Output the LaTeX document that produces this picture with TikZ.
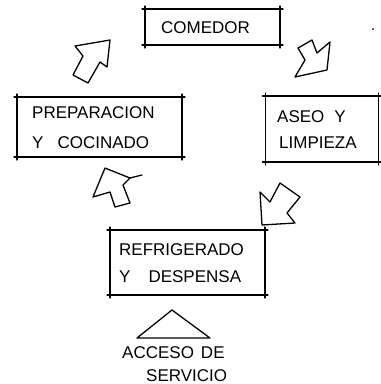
\documentclass[tikz,border=0pt]{standalone}
\usepackage{fontspec}
\setmainfont{Liberation Sans}
\begin{document}
\begin{tikzpicture}[x=1pt,y=-1pt,
  sk/.style={line width=1.3pt,line cap=round,line join=round},
  boxln/.style={sk,shorten <=-3pt,shorten >=-3pt},
  areabox/.style={minimum width=#1,inner sep=0pt,outer sep=0pt},
  lbl/.style={anchor=west,inner sep=0pt,font=\fontsize{17}{17}\selectfont},
  bigarrow/.style={sk,fill=white}]
\useasboundingbox (0,0) rectangle (381,384);
% boxes
\node[areabox=135pt,minimum height=36pt] (com) at (212.5,27) {};
\node[areabox=165pt,minimum height=60pt] (prep) at (99.5,127) {};
\node[areabox=113pt,minimum height=66pt] (aseo) at (322,129) {};
\node[areabox=155pt,minimum height=65pt] (refr) at (187.5,262.5) {};
\foreach \b in {com,prep,aseo,refr}{
  \draw[boxln] (\b.north west) -- (\b.north east);
  \draw[boxln] (\b.north east) -- (\b.south east);
  \draw[boxln] (\b.south east) -- (\b.south west);
  \draw[boxln] (\b.south west) -- (\b.north west);
}
% labels
\node[lbl] (tcom) at (161,28) {COMEDOR};
\node[lbl] (tprep1) at (32,113) {PREPARACION};
\node[lbl] (tprep2) at (32,143) {Y\hspace{14pt}COCINADO};
\node[lbl] (taseo1) at (277,117) {ASEO\hspace{10pt}Y};
\node[lbl] (taseo2) at (279,143) {LIMPIEZA};
\node[lbl] (trefr1) at (119,250) {REFRIGERADO};
\node[lbl] (trefr2) at (119,277) {Y\hspace{18pt}DESPENSA};
\node[lbl] (tacc1) at (122,353) {ACCESO\hspace{7pt}DE};
\node[lbl] (tacc2) at (146,376) {SERVICIO};
% access triangle
\draw[sk] (172,310) -- (210,338) -- (137,338) -- cycle;
% arrows
\draw[bigarrow] (110,40) -- (107,67) -- (100,62) -- (88,83) -- (73,75) -- (83,56) -- (75,46) -- cycle;
\draw[bigarrow] (327,70) -- (295,77) -- (305,60) -- (298,48) -- (312,40) -- (317,53) -- (330,42) -- cycle;
\draw[bigarrow] (105,168) -- (130,178) -- (123,185) -- (130,203) -- (115,207) -- (110,192) -- (93,197) -- cycle;
\draw[sk] (130,178) -- (142,175);
\draw[bigarrow] (262,225) -- (260,192) -- (270,202) -- (280,183) -- (300,197) -- (287,213) -- (295,223) -- cycle;
% stray dot
\fill (373,29) circle (1pt);
\end{tikzpicture}
\end{document}
